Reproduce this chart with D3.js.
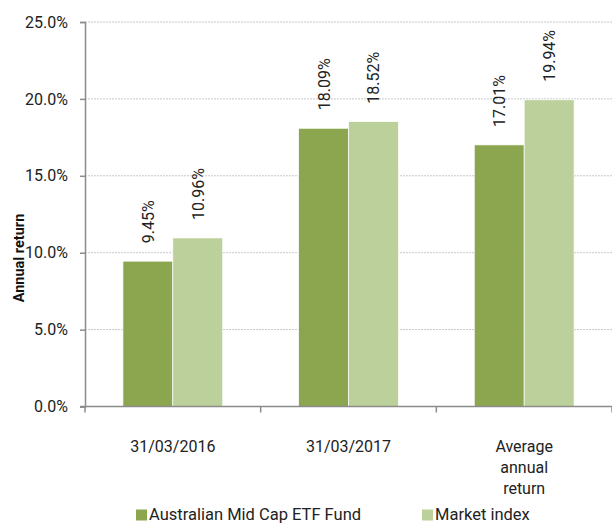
<!DOCTYPE html>
<html><head><meta charset="utf-8">
<script src="https://cdn.jsdelivr.net/npm/d3@7"></script>
<style>body{margin:0;background:#fff;} text{font-family:Roboto,"Noto Sans",sans-serif;}</style>
</head><body><svg id="c" width="612" height="524"></svg>
<script>
const categories = [["31/03/2016"], ["31/03/2017"], ["Average", "annual", "return"]];
const seriesNames = ["Australian Mid Cap ETF Fund", "Market index"];
const fundValues = [9.45, 18.09, 17.01];
const indexValues = [10.96, 18.52, 19.94];
const yTicks = [0, 5, 10, 15, 20, 25];
const colors = ["#8ba64f", "#bbd09a"];

const svg = d3.select("#c");
const m = {l: 85, r: 0, t: 22, b: 117.5};
const W = 612, H = 524;
const x = d3.scaleBand().domain(d3.range(categories.length)).range([m.l, W - m.r]);
const y = d3.scaleLinear().domain([0, 25]).range([H - m.b, m.t]);
const inner = d3.scaleBand().domain([0, 1]).range([0, x.bandwidth()]).paddingInner(0).paddingOuter(0.76);

// grid
svg.append("g").selectAll("line").data(yTicks.filter(d => d > 0)).join("line")
  .attr("x1", m.l).attr("x2", W).attr("y1", d => y(d)).attr("y2", d => y(d))
  .attr("stroke", "#c8c8c8").attr("stroke-width", 1).attr("stroke-dasharray", "2,1");

// bars
const series = [fundValues, indexValues];
series.forEach((vals, si) => {
  svg.append("g").selectAll("rect").data(vals).join("rect")
    .attr("x", (d, i) => x(i) + inner(si))
    .attr("width", inner.bandwidth())
    .attr("y", d => y(d))
    .attr("height", d => y(0) - y(d))
    .attr("fill", colors[si]).attr("stroke", "#fff").attr("stroke-width", 0.7);
  svg.append("g").selectAll("text").data(vals).join("text")
    .attr("transform", (d, i) => `translate(${x(i) + inner(si) + inner.bandwidth() / 2 + 6},${y(d) - 18}) rotate(-90)`)
    .attr("font-size", 16).attr("fill", "#222")
    .text(d => d.toFixed(2) + "%");
});

// y axis
const ya = svg.append("g").attr("transform", `translate(${m.l},0)`)
  .call(d3.axisLeft(y).tickValues(yTicks).tickSize(5).tickPadding(12).tickFormat(d => d.toFixed(1) + "%"));
ya.select(".domain").attr("stroke", "#8c8c8c").attr("stroke-width", 1.5);
ya.selectAll(".tick line").attr("stroke", "#8c8c8c").attr("stroke-width", 1.5);
ya.selectAll(".tick text").attr("font-size", 16).attr("fill", "#222").attr("font-family", "Roboto");

// x axis
svg.append("line").attr("x1", m.l - 5).attr("x2", W).attr("y1", y(0)).attr("y2", y(0))
  .attr("stroke", "#8c8c8c").attr("stroke-width", 1.5);
svg.append("g").selectAll("line").data(d3.range(categories.length + 1)).join("line")
  .attr("x1", i => m.l + i * x.bandwidth()).attr("x2", i => m.l + i * x.bandwidth())
  .attr("y1", y(0)).attr("y2", y(0) + 6).attr("stroke", "#8c8c8c").attr("stroke-width", 1.5);
const xl = svg.append("g").selectAll("text").data(categories).join("text")
  .attr("x", (d, i) => x(i) + x.bandwidth() / 2).attr("y", y(0) + 45.5)
  .attr("text-anchor", "middle").attr("font-size", 16).attr("fill", "#222");
xl.each(function(d) {
  const t = d3.select(this);
  d.forEach((line, j) => t.append("tspan").attr("x", t.attr("x")).attr("dy", j === 0 ? 0 : 21).text(line));
});

// y label
svg.append("text").attr("transform", `translate(24,258) rotate(-90)`)
  .attr("text-anchor", "middle").attr("font-size", 14.5).attr("font-weight", "bold").attr("fill", "#111")
  .text("Annual return");

// legend
const legX = [136, 422];
seriesNames.forEach((n, i) => {
  svg.append("rect").attr("x", legX[i]).attr("y", 509.5).attr("width", 11).attr("height", 11).attr("fill", colors[i]);
  svg.append("text").attr("x", legX[i] + 13).attr("y", 520).attr("font-size", 16.5).attr("fill", "#222").text(n);
});
</script></body></html>
